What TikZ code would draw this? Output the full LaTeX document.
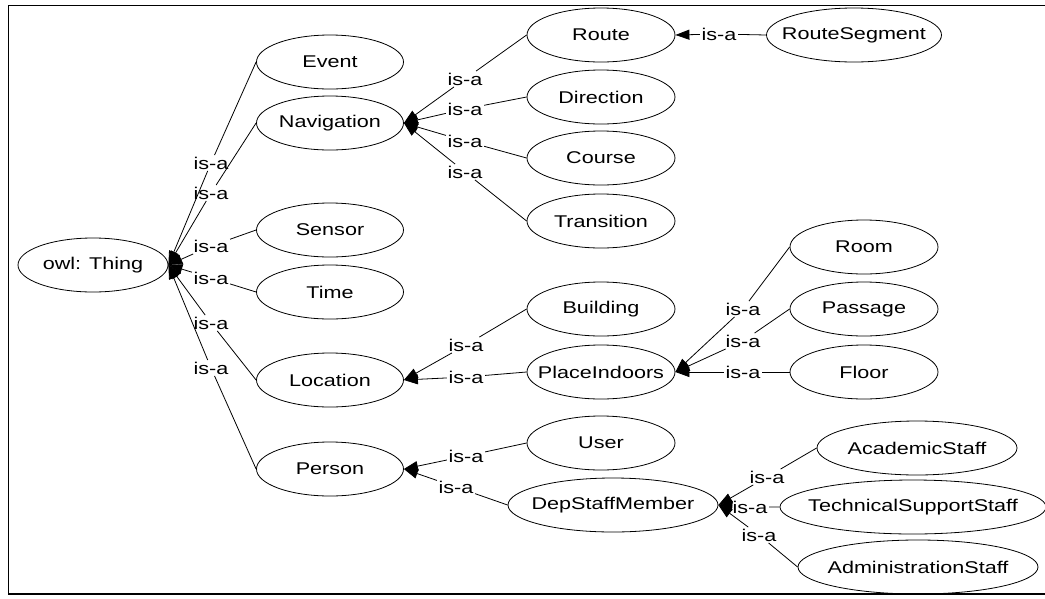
\documentclass[tikz,border=0pt]{standalone}
\usepackage{fontspec}
\setmainfont{Liberation Sans}[FakeStretch=1.27]
\usetikzlibrary{arrows.meta,shapes.geometric}
% zero-width box so the ellipse size is set only by its minimum sizes
\newcommand\cbox[1]{\makebox[0pt]{#1}}
\tikzset{
  txt/.style={font=\fontsize{17}{20}\selectfont},
  cls/.style={txt, ellipse, draw, line width=0.8pt, inner sep=0pt, minimum height=54pt},
  isa/.style={txt, inner sep=1.5pt},
  sub/.style={draw, line width=0.8pt, -{Triangle[length=14pt,width=10pt]}},
}
\begin{document}
\begin{tikzpicture}[x=1pt,y=-1pt]
\useasboundingbox (0,0) rectangle (1045,598);
% frame
\draw[line width=0.9pt] (1046,5) -- (8,5) -- (8,594);
\draw[line width=1.3pt] (8,594) -- (1046,594);

% classes
\node[cls, minimum width=150pt] (thing) at (93,265) {\cbox{owl: Thing}};

\node[cls, minimum width=147pt] (event)  at (330,62)  {\cbox{Event}};
\node[cls, minimum width=147pt] (nav)    at (330,123) {\cbox{Navigation}};
\node[cls, minimum width=147pt] (sensor) at (330,230) {\cbox{Sensor}};
\node[cls, minimum width=147pt] (time)   at (330,292) {\cbox{Time}};
\node[cls, minimum width=147pt] (loc)    at (330,380) {\cbox{Location}};
\node[cls, minimum width=147pt] (person) at (330,469) {\cbox{Person}};

\node[cls, minimum width=148pt] (route)  at (601,35)  {\cbox{Route}};
\node[cls, minimum width=148pt] (dir)    at (601,97)  {\cbox{Direction}};
\node[cls, minimum width=148pt] (course) at (601,158) {\cbox{Course}};
\node[cls, minimum width=148pt] (trans)  at (601,221) {\cbox{Transition}};
\node[cls, minimum width=175pt] (rseg)   at (854,35)  {\cbox{RouteSegment}};

\node[cls, minimum width=148pt] (build)  at (601,309) {\cbox{Building}};
\node[cls, minimum width=148pt] (place)  at (601,372) {\cbox{PlaceIndoors}};
\node[cls, minimum width=148pt] (room)   at (864,247) {\cbox{Room}};
\node[cls, minimum width=148pt] (pass)   at (864,309) {\cbox{Passage}};
\node[cls, minimum width=148pt] (floor)  at (864,372) {\cbox{Floor}};

\node[cls, minimum width=148pt] (user)   at (601,443) {\cbox{User}};
\node[cls, minimum width=210pt] (dep)    at (613,505) {\cbox{DepStaffMember}};
\node[cls, minimum width=200pt] (acad)   at (917,448) {\cbox{AcademicStaff}};
\node[cls, minimum width=266pt] (tech)   at (913,507) {\cbox{TechnicalSupportStaff}};
\node[cls, minimum width=240pt] (admin)  at (918,567) {\cbox{AdministrationStaff}};

% edge labels
\node[isa] (l1)  at (211,163) {is-a};
\node[isa] (l2)  at (211,193) {is-a};
\node[isa] (l3)  at (211,246) {is-a};
\node[isa] (l4)  at (211,278) {is-a};
\node[isa] (l5)  at (211,323) {is-a};
\node[isa] (l6)  at (211,368) {is-a};
\node[isa] (l7)  at (465,79)  {is-a};
\node[isa] (l8)  at (465,109) {is-a};
\node[isa] (l9)  at (465,141) {is-a};
\node[isa] (l10) at (465,172) {is-a};
\node[isa] (l11) at (719,34)  {is-a};
\node[isa] (l12) at (466,345) {is-a};
\node[isa] (l13) at (466,377) {is-a};
\node[isa] (l14) at (743,309) {is-a};
\node[isa] (l15) at (743,341) {is-a};
\node[isa] (l16) at (743,372) {is-a};
\node[isa] (l17) at (466,456) {is-a};
\node[isa] (l18) at (456,487) {is-a};
\node[isa] (l19) at (767,477) {is-a};
\node[isa] (l20) at (750,507) {is-a};
\node[isa] (l21) at (759,535) {is-a};

% subclass relations
\draw[sub] (event.west)  -- (l1)  -- (thing.east);
\draw[sub] (nav.west)    -- (l2)  -- (thing.east);
\draw[sub] (sensor.west) -- (l3)  -- (thing.east);
\draw[sub] (time.west)   -- (l4)  -- (thing.east);
\draw[sub] (loc.west)    -- (l5)  -- (thing.east);
\draw[sub] (person.west) -- (l6)  -- (thing.east);

\draw[sub] (route.west)  -- (l7)  -- (nav.east);
\draw[sub] (dir.west)    -- (l8)  -- (nav.east);
\draw[sub] (course.west) -- (l9)  -- (nav.east);
\draw[sub] (trans.west)  -- (l10) -- (nav.east);
\draw[sub] (rseg.west)   -- (l11) -- (route.east);

\draw[sub] (build.west)  -- (l12) -- (loc.east);
\draw[sub] (place.west)  -- (l13) -- (loc.east);
\draw[sub] (room.west)   -- (l14) -- (place.east);
\draw[sub] (pass.west)   -- (l15) -- (place.east);
\draw[sub] (floor.west)  -- (l16) -- (place.east);

\draw[sub] (user.west)   -- (l17) -- (person.east);
\draw[sub] (dep.west)    -- (l18) -- (person.east);
\draw[sub] (acad.west)   -- (l19) -- (dep.east);
\draw[sub] (tech.west)   -- (l20) -- (dep.east);
\draw[sub] (admin.west)  -- (l21) -- (dep.east);
\end{tikzpicture}
\end{document}
